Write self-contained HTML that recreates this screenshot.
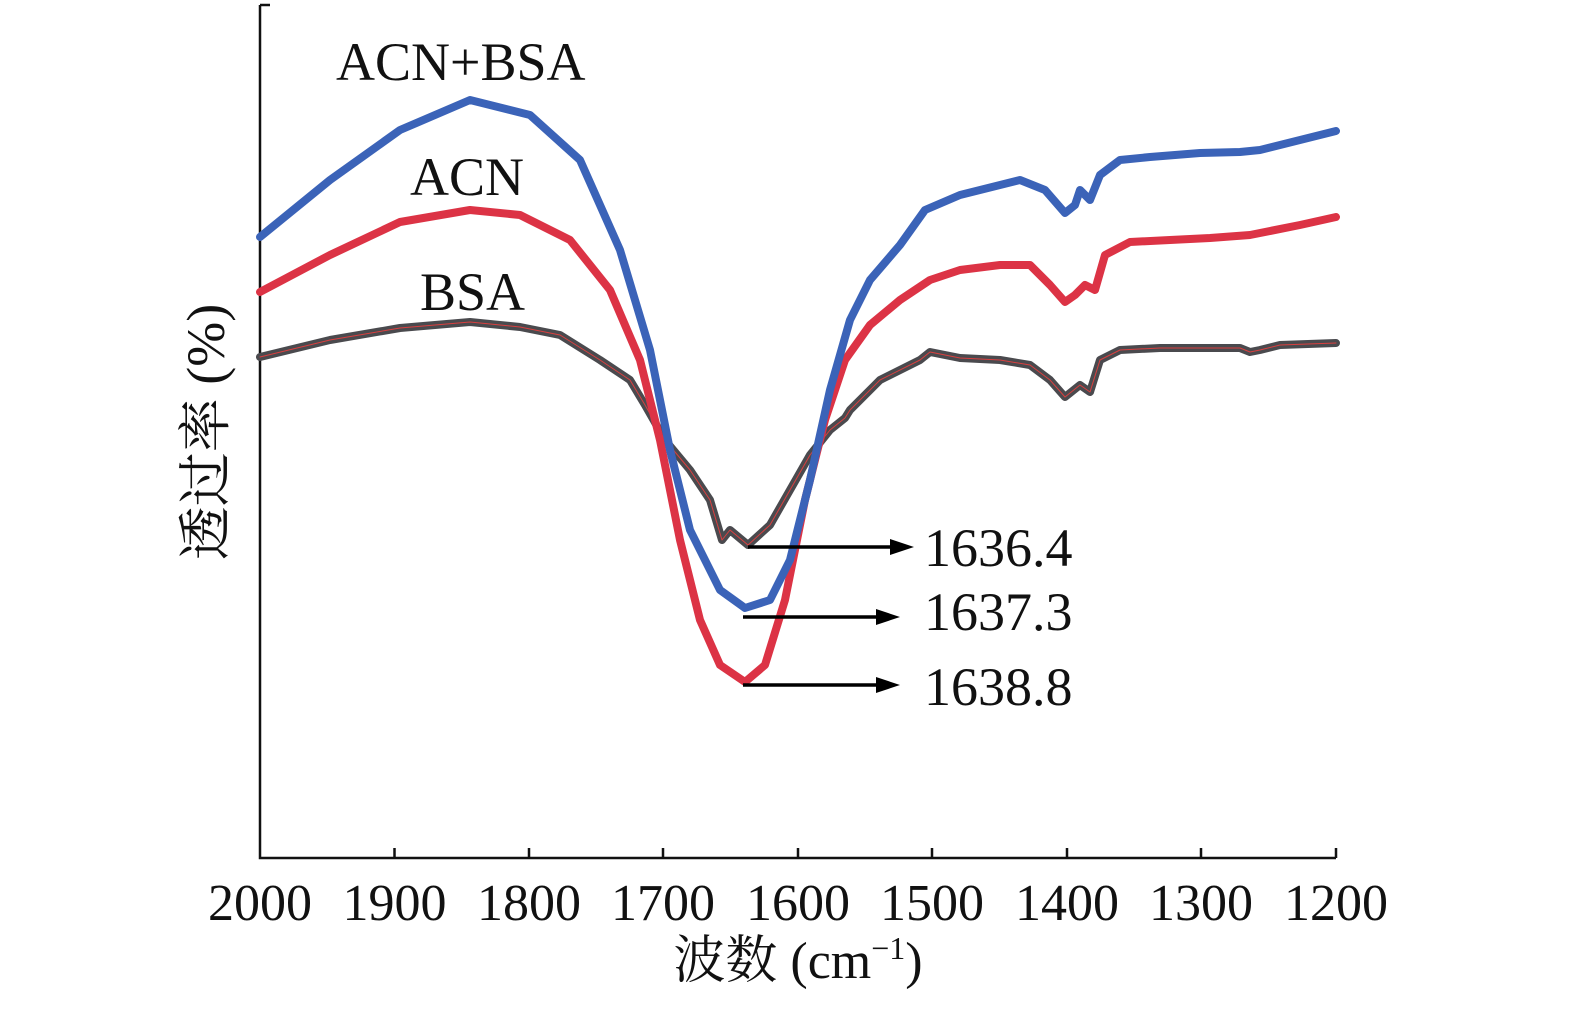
<!DOCTYPE html>
<html><head><meta charset="utf-8"><style>
body{margin:0;background:#fff}
svg text{font-family:"Liberation Serif","Noto Serif CJK SC",serif;fill:#111}
</style></head><body>
<svg width="1575" height="1004" viewBox="0 0 1575 1004" xmlns="http://www.w3.org/2000/svg">
<g stroke="#111" stroke-width="2.5" fill="none">
<path d="M260,5 V858 H1336"/>
<path d="M260,5 H270"/>
<path d="M394.5,858v-10M529,858v-10M663,858v-10M798,858v-10M932,858v-10M1067,858v-10M1201,858v-10M1336,858v-10"/>
</g>
<g fill="none" stroke-linejoin="round" stroke-linecap="round">
<polyline stroke="#4a4a4e" stroke-width="8" points="260,357 330,340 400,328 470,322 520,327 560,335 600,360 630,380 645,405 665,440 690,470 710,500 722,540 730,530 748,545 770,525 790,490 810,455 830,430 845,418 850,410 880,380 920,360 930,352 960,358 1000,360 1030,365 1050,380 1065,397 1080,385 1090,392 1100,360 1120,350 1160,348 1240,348 1250,352 1260,350 1280,345 1336,343"/>
<polyline stroke="#d94040" stroke-width="1" points="260,357 330,340 400,328 470,322 520,327 560,335 600,360 630,380 645,405 665,440 690,470 710,500 722,540 730,530 748,545 770,525 790,490 810,455 830,430 845,418 850,410 880,380 920,360 930,352 960,358 1000,360 1030,365 1050,380 1065,397 1080,385 1090,392 1100,360 1120,350 1160,348 1240,348 1250,352 1260,350 1280,345 1336,343"/>
<polyline stroke="#dc3345" stroke-width="8" points="260,292 330,255 400,222 470,210 520,215 570,240 610,290 640,360 660,440 680,540 700,620 720,665 745,682 765,665 785,600 805,500 825,420 845,360 870,325 900,300 930,280 960,270 1000,265 1030,265 1050,285 1065,302 1075,295 1085,285 1095,290 1105,255 1130,242 1170,240 1210,238 1250,235 1300,225 1336,217"/>
<polyline stroke="#3b63b8" stroke-width="8" points="260,237 330,180 400,130 470,100 530,115 580,160 620,250 650,350 670,450 690,530 720,590 745,608 770,600 790,560 810,480 830,390 850,320 870,280 900,245 925,210 960,195 1000,185 1020,180 1045,190 1065,213 1075,205 1080,190 1090,200 1100,175 1120,160 1150,157 1200,153 1240,152 1260,150 1300,140 1336,131"/>
</g>
<g stroke="#000" stroke-width="3.5">
<line x1="748" y1="547" x2="900" y2="547"/>
<line x1="743" y1="617" x2="886" y2="617"/>
<line x1="743" y1="685" x2="886" y2="685"/>
</g>
<g fill="#000">
<polygon points="914,547 890,539 890,555"/>
<polygon points="900,617 876,609 876,625"/>
<polygon points="900,685 876,677 876,693"/>
</g>
<g font-size="54">
<text x="924" y="566">1636.4</text>
<text x="924" y="630">1637.3</text>
<text x="924" y="705">1638.8</text>
<text x="336" y="80">ACN+BSA</text>
<text x="410" y="195">ACN</text>
<text x="420" y="310">BSA</text>
</g>
<g font-size="52" text-anchor="middle">
<text x="260" y="920">2000</text><text x="394.5" y="920">1900</text><text x="529" y="920">1800</text><text x="663" y="920">1700</text><text x="798" y="920">1600</text><text x="932" y="920">1500</text><text x="1067" y="920">1400</text><text x="1201" y="920">1300</text><text x="1336" y="920">1200</text>
</g>
<text x="798" y="978" font-size="52" text-anchor="middle">波数 (cm<tspan font-size="32" dy="-19">−1</tspan><tspan dy="19">)</tspan></text>
<text transform="translate(224,432) rotate(-90)" font-size="54" text-anchor="middle">透过率 (%)</text>
</svg>
</body></html>
